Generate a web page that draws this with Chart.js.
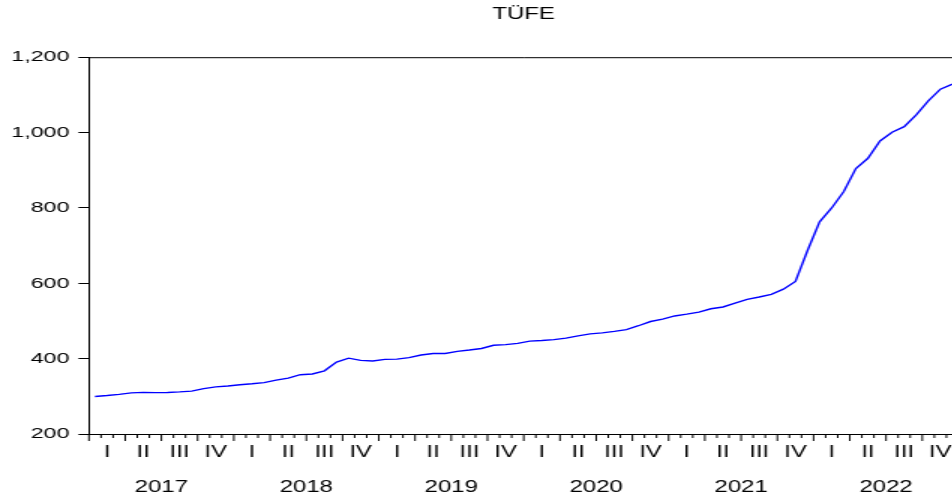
<!DOCTYPE html>
<html>
<head>
<meta charset="utf-8">
<script src="https://cdn.jsdelivr.net/npm/chart.js@4"></script>
<style>
    html, body { margin: 0; padding: 0; background: #fff; overflow: hidden; }
    body { width: 952px; height: 502px; }
    /* the reference picture is stretched sideways, so the chart is drawn narrow and scaled */
    #wrap { width: 640px; height: 502px; transform: scaleX(1.5); transform-origin: 0 0; }
</style>
</head>
<body>
<div id="wrap"><canvas id="tufeChart"></canvas></div>
<script>
const years = ['2017', '2018', '2019', '2020', '2021', '2022'];
const quarters = ['I', 'II', 'III', 'IV'];
const yTicks = [200, 400, 600, 800, 1000, 1200];

// monthly TÜFE, Jan 2017 .. Dec 2022
const tufe2017 = [299.7, 302.1, 305.2, 309.2, 310.6, 309.8, 310.2, 311.8, 313.9, 320.4, 325.2, 327.4];
const tufe2018 = [330.8, 333.2, 336.5, 342.8, 348.3, 357.4, 359.4, 367.6, 390.8, 401.2, 395.4, 393.9];
const tufe2019 = [398.1, 398.7, 402.8, 409.6, 413.5, 413.6, 419.3, 422.9, 427.0, 435.6, 437.2, 440.5];
const tufe2020 = [446.5, 448.0, 450.6, 454.4, 460.6, 465.8, 468.5, 472.5, 477.1, 487.3, 498.5, 504.8];
const tufe2021 = [513.3, 518.0, 523.6, 532.4, 537.1, 547.5, 557.4, 563.6, 570.7, 584.3, 604.8, 686.9];
const tufe2022 = [763.2, 799.9, 843.6, 904.7, 931.7, 977.8, 1001.0, 1015.6, 1046.9, 1083.9, 1115.2, 1128.3];

const tufe = [].concat(tufe2017, tufe2018, tufe2019, tufe2020, tufe2021, tufe2022);
const monthCount = years.length * 12;

const FONT = "'Liberation Sans', Arial, sans-serif";

// monthly tick marks under the axis, longer at quarter ends, plus the box on top
const frameAndTicks = {
    id: 'frameAndTicks',
    afterDraw(chart) {
        const ctx = chart.ctx;
        const area = chart.chartArea;
        const xScale = chart.scales.x;
        ctx.save();
        ctx.strokeStyle = '#000';
        ctx.lineWidth = 1;
        ctx.beginPath();
        ctx.moveTo(area.left, area.top + 0.5);
        ctx.lineTo(area.right, area.top + 0.5);
        ctx.lineTo(area.right, area.bottom);
        for (let i = 0; i <= monthCount; i++) {
            const x = xScale.getPixelForValue(i);
            const len = (i % 3 === 0) ? 7 : 4;
            ctx.moveTo(x, area.bottom);
            ctx.lineTo(x, area.bottom + len);
        }
        ctx.stroke();
        ctx.restore();
    }
};

const data = {
    datasets: [{
        label: 'TÜFE',
        data: tufe.map((v, i) => ({ x: i + 0.5, y: v })),
        xAxisID: 'x',
        yAxisID: 'y',
        borderColor: 'rgb(0, 0, 255)',
        borderWidth: 1.4,
        pointRadius: 0,
        tension: 0,
        fill: false,
    }]
};

const config = {
    type: 'line',
    data: data,
    options: {
        responsive: true,
        maintainAspectRatio: false,
        animation: false,
        layout: { padding: { top: 0, right: 1, bottom: 0, left: 0 } },
        plugins: {
            legend: { display: false },
            tooltip: { enabled: false },
            title: {
                display: true,
                text: 'TÜFE',
                fullSize: false,
                color: '#000',
                font: { family: FONT, size: 16, weight: 'normal' },
                padding: { top: 5, bottom: 33 },
            }
        },
        scales: {
            x: {
                type: 'linear',
                position: 'bottom',
                min: 0,
                max: monthCount,
                afterBuildTicks: function(scale) {
                    scale.ticks = [];
                    for (let q = 0; q < years.length * 4; q++) {
                        scale.ticks.push({ value: q * 3 + 1.5 });
                    }
                },
                afterFit: function(scale) { scale.height = 28; },
                ticks: {
                    autoSkip: false,
                    maxRotation: 0,
                    padding: 2,
                    color: '#000',
                    font: { family: FONT, size: 16 },
                    callback: function(value) {
                        return quarters[Math.round((value - 1.5) / 3) % 4];
                    }
                },
                grid: { display: true, drawOnChartArea: false, drawTicks: true, tickLength: 7, tickColor: 'rgba(0,0,0,0)' },
                border: { display: true, color: '#000', width: 1 },
            },
            x2: {
                type: 'linear',
                position: 'bottom',
                min: 0,
                max: monthCount,
                afterBuildTicks: function(scale) {
                    scale.ticks = years.map((y, k) => ({ value: k * 12 + 6 }));
                },
                afterFit: function(scale) { scale.height = 40; },
                ticks: {
                    autoSkip: false,
                    maxRotation: 0,
                    padding: 16,
                    color: '#000',
                    font: { family: FONT, size: 16 },
                    callback: function(value) {
                        return years[Math.round((value - 6) / 12)];
                    }
                },
                grid: { display: false, drawTicks: false },
                border: { display: false },
            },
            y: {
                min: 200,
                max: 1200,
                afterBuildTicks: function(scale) {
                    scale.ticks = yTicks.map(v => ({ value: v }));
                },
                afterFit: function(scale) { scale.width = 59.3; },
                ticks: {
                    padding: 6,
                    color: '#000',
                    font: { family: FONT, size: 15.5 },
                    callback: function(value) {
                        return value.toLocaleString('en-US');
                    }
                },
                grid: { drawOnChartArea: false, tickLength: 7, tickColor: '#000', tickWidth: 1 },
                border: { display: true, color: '#000', width: 1 },
            }
        }
    },
    plugins: [frameAndTicks]
};

const ctx = document.getElementById('tufeChart').getContext('2d');
new Chart(ctx, config);
</script>
</body>
</html>
